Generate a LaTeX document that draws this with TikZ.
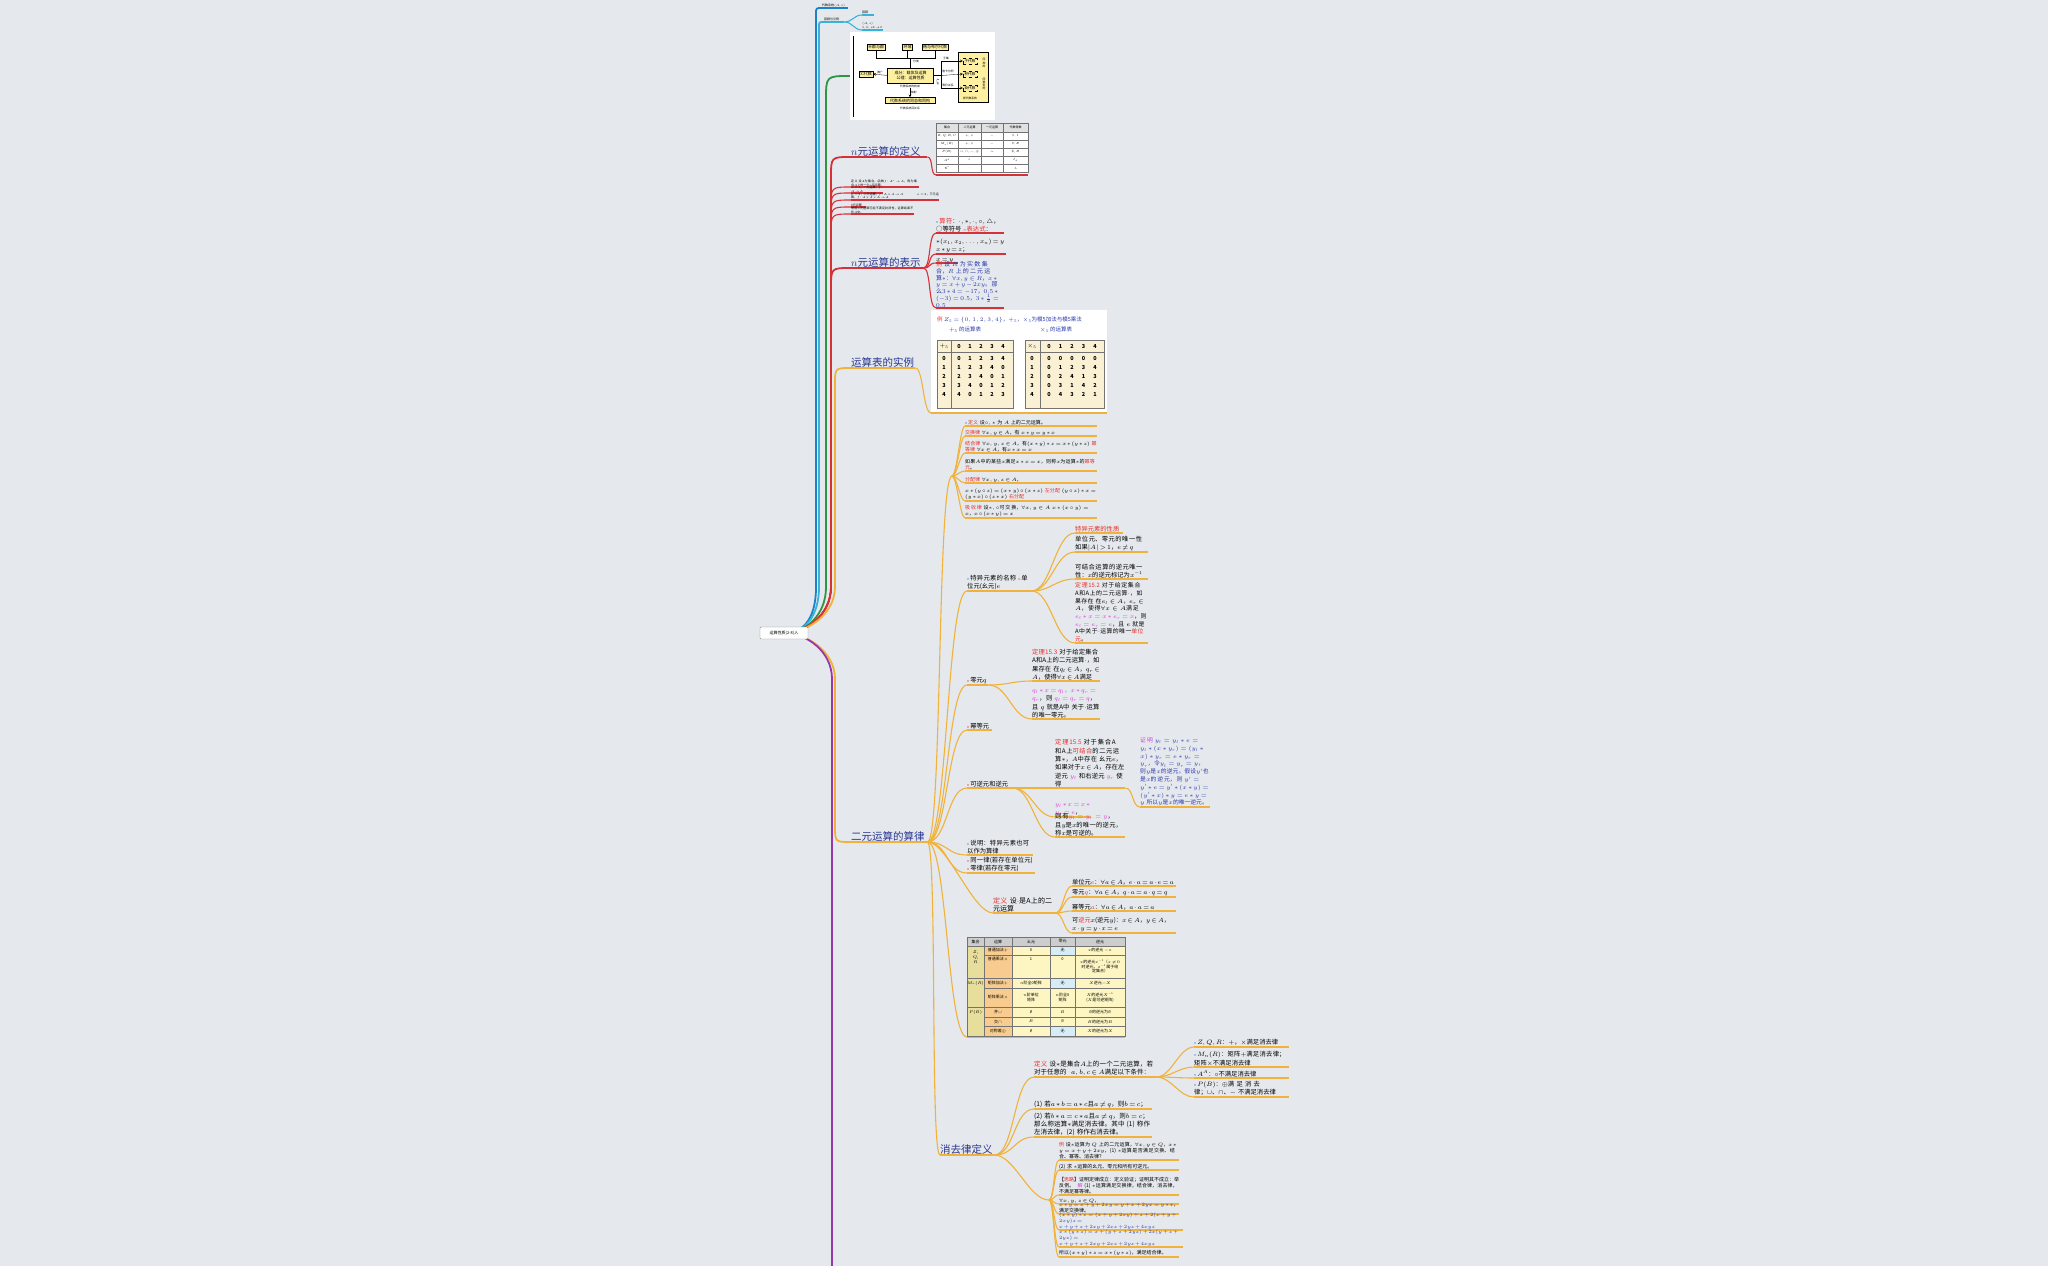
\RequirePackage{fix-cm}
\documentclass[tikz,border=0pt]{standalone}
\usepackage{fontspec}
\setmainfont{Noto Sans CJK SC}
\usepackage{xcolor}
\usetikzlibrary{positioning,arrows,backgrounds,calc}
\XeTeXlinebreaklocale "zh"
\XeTeXlinebreakskip=0pt plus 1pt
\thickmuskip=3mu plus 2mu
\medmuskip=2mu plus 1mu

\definecolor{bgc}{RGB}{229,233,237}
\definecolor{cblue}{RGB}{30,128,200}
\definecolor{ccyan}{RGB}{56,178,214}
\definecolor{cgreen}{RGB}{46,150,66}
\definecolor{cred}{RGB}{214,48,56}
\definecolor{cyel}{RGB}{240,178,58}
\definecolor{cpurp}{RGB}{150,56,170}
\definecolor{headc}{RGB}{40,52,145}
\definecolor{redtxt}{RGB}{232,45,40}
\definecolor{pinktxt}{RGB}{220,60,220}
\definecolor{bluetxt}{RGB}{40,55,170}
\definecolor{boxyel}{RGB}{253,240,160}
\definecolor{tabfill}{RGB}{250,241,212}
\definecolor{hdrfill}{RGB}{205,205,205}
\definecolor{setfill}{RGB}{232,222,156}
\definecolor{opfill}{RGB}{248,204,142}
\definecolor{cellfill}{RGB}{253,246,194}
\definecolor{nonefill}{RGB}{214,236,246}

\newcommand{\rtx}[1]{\textcolor{redtxt}{#1}}
\newcommand{\ptx}[1]{\textcolor{pinktxt}{#1}}
\newcommand{\btx}[1]{\textcolor{bluetxt}{#1}}
\newcommand{\bul}[1][cblue]{{\color{#1}\fontsize{3.5}{3.5}\selectfont n}\,}

\begin{document}
\begin{tikzpicture}[
    x=1pt, y=-1pt,
    topic/.style={anchor=south west, inner xsep=0pt, inner ysep=0.8pt, align=left, text width=#1},
    ul/.style={append after command={(\tikzlastnode.south west) edge[draw=#1, line width=1.1pt] (\tikzlastnode.south east)}},
    hul/.style={append after command={(\tikzlastnode.south west) edge[draw=#1, line width=1.8pt] (\tikzlastnode.south east)}},
    conn/.style={to path={.. controls +(#1,0) and +(-#1,0) .. (\tikztotarget)}},
    rootlink/.style={to path={let \p1=(\tikztostart), \p2=(\tikztotarget), \n1={ifthenelse(\y2>\y1,1,-1)} in
        .. controls (\x1+22,\y1) and (\x2-#1,\y1+\n1*18) .. (\x2-#1,\y1+\n1*46) -- (\x2-#1,\y2-\n1*#1) .. controls (\x2-#1,\y2) .. (\tikztotarget)}},
    mainline/.style={line width=1.8pt},
    subline/.style={line width=1.1pt},
    fhead/.style={font=\fontsize{10.5}{12}\selectfont, text=headc},
    fbody/.style={font=\fontsize{6.3}{8.3}\selectfont},
    fsmall/.style={font=\fontsize{5}{6}\selectfont},
    ftiny/.style={font=\fontsize{3}{3.6}\selectfont},
    rootbox/.style={rectangle, rounded corners=1pt, draw=black!45, fill=white!96!bgc, minimum width=48pt, minimum height=12pt, font=\fontsize{4}{5}\selectfont},
    imgbox/.style={rectangle, fill=white, inner sep=0pt},
    abox/.style={rectangle, draw=black, fill=boxyel, line width=0.4pt, inner sep=1pt, align=center, font=\fontsize{4}{4.8}\selectfont},
    dbox/.style={rectangle, draw=black, dashed, line width=0.3pt, fill=boxyel, inner sep=1pt, minimum width=14pt, font=\fontsize{3.6}{4}\selectfont},
    itxt/.style={inner sep=0pt, font=\fontsize{2.8}{3.2}\selectfont},
    tabtxt/.style={inner sep=0pt, align=center, font=\fontsize{4}{4.8}\selectfont},
    ttxt/.style={inner sep=0pt, align=center, font=\fontsize{3}{3.6}\selectfont},
    tnum/.style={inner sep=0pt, font=\fontsize{5.5}{6}\selectfont},
    tabline/.style={draw=black!55, line width=0.4pt}
]
\useasboundingbox (0,0) rectangle (2048,1266);
\begin{scope}[on background layer]
  \fill[bgc] (0,0) rectangle (2048,1266);
\end{scope}

% Root
\node[rootbox] (root) at (784,633) {运算性质(2-8)入};
\coordinate (pend) at (850,1300);

% Top branches
\node[topic=26pt, ftiny, ul=cblue] (alg) at (822,8) {代数系统$\langle A,\circ\rangle$};
\node[topic=20pt, ftiny, ul=ccyan] (review) at (824,22) {回顾与引例};
\node[topic=12pt, ftiny, ul=ccyan] (revA) at (862,15) {回顾};
\node[topic=21pt, ftiny, ul=ccyan] (revB) at (862,30) {$\langle A,*\rangle$\\$1,0,*3\to0$};

% Structure picture
\node[imgbox, minimum width=145pt, minimum height=88pt, anchor=west] (algimg) at (850,76) {};
\draw[line width=0.9pt] (853,36) -- (853,117);
\node[abox] (semi) at (876,47) {半群与群};
\node[abox] (ring) at (907.5,47) {环域};
\node[abox] (latt) at (935,47) {格与布尔代数};
\node[abox, minimum width=46pt, minimum height=15pt] (core) at (910.5,75.5) {成分：载体及运算\\公理：运算性质};
\node[abox] (sigma) at (866,74) {$\Sigma$代数};
\node[abox, minimum width=50pt] (homo) at (910,100.5) {代数系统的同态和同构};
\node[abox, minimum width=30pt, minimum height=50pt] (newalg) at (973.5,77.5) {};
\node[dbox] (subalg) at (970,61) {子代数};
\node[dbox] (prodalg) at (970,74) {积代数};
\node[dbox] (quotalg) at (970,88) {商代数};
\node[itxt] (newlbl) at (970,98.5) {新代数系统};
\node[itxt, align=center] (samek) at (984,63) {同\\种\\的};
\node[itxt, align=center] (samet) at (984,84) {同\\类\\型\\的};
\node[itxt] (corelbl) at (910,86.5) {代数系统的构成};
\node[itxt] (rellbl) at (910,108) {代数系统间关系};
\node[itxt] (classlbl) at (916,61) {分类};
\node[itxt] (sublbl) at (946,58) {子集};
\node[itxt] (prodlbl) at (948,71.5) {笛卡尔积};
\node[itxt] (quotlbl) at (948,85) {等价关系};
\node[itxt, align=center] (genr) at (938,82) {产\\生};
\draw[line width=0.3pt] (semi.south) -- (876,58) -- (935,58) -- (latt.south) (ring.south) -- (907.5,58) (910.5,58) -- (core.north);
\draw[->, >=stealth, line width=0.3pt] (core.west) -- node[itxt, above=0.5pt] (genlbl) {推广} (sigma.east);
\draw[->, >=stealth, line width=0.3pt] (corelbl.south) -- node[itxt, right=1pt] (maplbl) {映射} (homo.north);
\draw[->, >=stealth, line width=0.3pt] (core.east) -- (941,75.5) |- (subalg.west);
\draw[->, >=stealth, line width=0.3pt] (941,75.5) -- (prodalg.west);
\draw[->, >=stealth, line width=0.3pt] (941,75.5) |- (quotalg.west);

% n-ary operation: definition
\node[topic=76pt, fhead, hul=cred] (defhead) at (851,157) {$n$元运算的定义};
\node[imgbox, anchor=south west, minimum width=92pt, minimum height=52pt, ul=cred] (deftab) at (936,175) {};
\fill[hdrfill!60] (936,123) rectangle (1028,132);
\draw[tabline] (936,123) rectangle (1028,172);
\foreach \yy in {132,140,148,156,164} \draw[tabline] (936,\yy) -- (1028,\yy);
\foreach \xx in {958,981,1003} \draw[tabline] (\xx,123) -- (\xx,172);
\foreach \x/\y/\t [count=\k] in {
  947/127.5/集合, 969.5/127.5/二元运算, 992/127.5/一元运算, 1015.5/127.5/代数常数,
  947/136/{$Z,Q,R,C$}, 969.5/136/{$+,\times$}, 992/136/$-$, 1015.5/136/{$0,1$},
  947/144/$M_n(R)$, 969.5/144/{$+,\times$}, 992/144/$-$, 1015.5/144/{$\theta,E$},
  947/152/$P(B)$, 969.5/152/{$\cup,\cap,-,\oplus$}, 992/152/$\sim$, 1015.5/152/{$\emptyset,B$},
  947/160/$A^A$, 969.5/160/$\circ$, 1015.5/160/$I_A$,
  947/168/$\Sigma^*$, 969.5/168/$\cdot$, 1015.5/168/$\lambda$}
  \node[ttxt] (dt\k) at (\x,\y) {\t};

% n-ary operation: small notes
\node[topic=68pt, ftiny, inner ysep=0.5pt, ul=cred] (note1) at (851,187) {定义 设$A$为集合，函数$f:A^n\to A$，称为集合$A$上的一个$n$元运算。};
\node[topic=32pt, ftiny, inner ysep=0.5pt, ul=cred] (note2) at (851,193) {$n=1$，一元运算，$f:A\to A$};
\node[topic=88pt, ftiny, inner ysep=0.5pt, ul=cred] (note3) at (851,200) {$n=2$，二元运算，$f:A\times A\to A$\hspace{14pt}$n=3$，三元运算，$f:A\times A\times A\to A$};
\node[topic=15pt, ftiny, inner ysep=0.5pt, ul=cred] (note4) at (851,207) {0元运算};
\node[topic=63pt, ftiny, inner ysep=0.5pt, ul=cred] (note5) at (851,214) {常用$n$元运算可能不满足封闭性，运算结果不在$A$中。};

% n-ary operation: notation
\node[topic=72pt, fhead, hul=cred] (rephead) at (851,268) {$n$元运算的表示};
\node[topic=68pt, fbody, ul=cred] (rep1) at (936,233) {\bul\rtx{算符}：$\cdot,*,\cdot,\circ,\triangle$，○等符号 \bul\rtx{表达式}：};
\node[topic=70pt, font=\fontsize{6.1}{8}\selectfont, ul=cred] (rep2) at (936,254) {$*(x_1,x_2,\ldots,x_n)=y$\ \ $x*y=z$；};
\node[topic=22pt, fbody, inner ysep=0.4pt, ul=cred] (rep3) at (936,263) {$x=y$};
\node[topic=68pt, font=\fontsize{6}{6.7}\selectfont, text=bluetxt, ul=cred] (rep4) at (936,308) {\rtx{例} 设 $R$ 为实数集合，$R$ 上的二元运算$*$：$\forall x,y\in R$，$x*y=x+y-2xy$。那么$3*4=-17$，$0.5*(-3)=0.5$，$3*\frac{1}{2}=0.5$};

% Operation tables
\node[topic=64pt, fhead, hul=cyel] (tabhead) at (851,368) {运算表的实例};
\node[imgbox, anchor=south west, minimum width=176pt, minimum height=103pt, ul=cyel] (tabimg) at (931,413) {};
\node[anchor=west, inner sep=0pt, font=\fontsize{5.5}{6}\selectfont, text=bluetxt] (extitle) at (937,320) {\rtx{例}\ $Z_5=\{0,1,2,3,4\}$，$+_5$，$\times_5$为模5加法与模5乘法};
\node[inner sep=0pt, font=\fontsize{5.5}{6}\selectfont, text=bluetxt] (addcap) at (965,330) {$+_5$ 的运算表};
\node[inner sep=0pt, font=\fontsize{5.5}{6}\selectfont, text=bluetxt] (mulcap) at (1056,330) {$\times_5$ 的运算表};
\draw[tabline, fill=tabfill] (937,340) rectangle (1013,408);
\draw[tabline] (937,352) -- (1013,352) (951,340) -- (951,408);
\draw[tabline, fill=tabfill] (1025,340) rectangle (1104,408);
\draw[tabline] (1025,352) -- (1104,352) (1040,340) -- (1040,408);
\node[tnum] (addhd) at (944,346) {$+_5$};
\node[tnum] (mulhd) at (1032,346) {$\times_5$};
\foreach \c in {0,...,4} {
  \node[tnum] (addc\c) at (959+11*\c,346) {$\mathbf{\c}$};
  \node[tnum] (mulc\c) at (1049+11.5*\c,346) {$\mathbf{\c}$};
}
\foreach \r in {0,...,4} {
  \node[tnum] (addr\r) at (944,358+9*\r) {$\mathbf{\r}$};
  \node[tnum] (mulr\r) at (1032,358+9*\r) {$\mathbf{\r}$};
  \foreach \c in {0,...,4} {
    \pgfmathtruncatemacro{\va}{mod(\r+\c,5)}
    \pgfmathtruncatemacro{\vm}{mod(\r*\c,5)}
    \node[tnum] (add\r\c) at (959+11*\c,358+9*\r) {$\mathbf{\va}$};
    \node[tnum] (mul\r\c) at (1049+11.5*\c,358+9*\r) {$\mathbf{\vm}$};
  }
}

% Laws of binary operations
\node[topic=76pt, fhead, hul=cyel] (lawhead) at (851,842) {二元运算的算律};
\coordinate (lawhub) at (952,476);
\node[topic=132pt, fsmall, ul=cyel] (law1) at (965,426) {\bul\rtx{定义} 设$\circ,*$ 为 $A$ 上的二元运算。};
\node[topic=132pt, fsmall, ul=cyel] (law2) at (965,436) {\rtx{交换律} $\forall x,y\in A$，有 $x*y=y*x$};
\node[topic=132pt, fsmall, ul=cyel] (law3) at (965,453) {\rtx{结合律} $\forall x,y,z\in A$，有$(x*y)*z=x*(y*z)$ \rtx{幂等律} $\forall x\in A$，有$x*x=x$};
\node[topic=132pt, fsmall, ul=cyel] (law4) at (965,471) {如果$A$中的某些$x$满足$x*x=x$，则称$x$为运算$*$的\rtx{幂等元}。};
\node[topic=132pt, fsmall, ul=cyel] (law5) at (965,483) {\rtx{分配律} $\forall x,y,z\in A$，};
\node[topic=132pt, fsmall, ul=cyel] (law6) at (965,501) {$x*(y\circ z)=(x*y)\circ(x*z)$ \rtx{左分配} $(y\circ z)*x=(y*x)\circ(z*x)$ \rtx{右分配}};
\node[topic=132pt, fsmall, ul=cyel] (law7) at (965,518) {\rtx{吸收律} 设$*,\circ$可交换，$\forall x,y\in A$ $x*(x\circ y)=x$，$x\circ(x*y)=x$};

\node[topic=64pt, fbody, ul=cyel] (spec) at (967,591) {\bul 特异元素的名称 \bul[redtxt]单位元(幺元)$e$};
\node[topic=48pt, fbody, ul=cyel] (specp) at (1075,533) {\rtx{特异元素的性质}};
\node[topic=73pt, fbody, ul=cyel] (specu) at (1075,552) {单位元、零元的唯一性\ \ 如果$|A|>1$，$e\neq q$};
\node[topic=73pt, fbody, ul=cyel] (speci) at (1075,579) {可结合运算的逆元唯一性：$x$的逆元标记为$x^{-1}$};
\node[topic=73pt, font=\fontsize{5.9}{7.7}\selectfont, ul=cyel] (thmunit) at (1075,643) {\rtx{定理15.2} 对于给定集合A和A上的二元运算$\cdot$，如果存在\ 在$e_l\in A$，$e_r\in A$，使得$\forall x\in A$满足 \ptx{$e_l*x=x*e_r=x$}，则 \ptx{$e_l=e_r=e$}，且 $e$ 就是A中关于$\cdot$运算的唯一\rtx{单位元}。};

\node[topic=21pt, fbody, ul=cyel] (zero) at (967,685) {\bul[redtxt]零元$q$};
\node[topic=68pt, fbody, ul=cyel] (thmzero) at (1032,681) {\rtx{定理15.3} 对于给定集合A和A上的二元运算$\cdot$，如果存在\ 在$q_l\in A$，$q_r\in A$，使得$\forall x\in A$满足};
\node[topic=68pt, fbody, ul=cyel] (zerores) at (1032,719) {\ptx{$q_l*x=q_l$，$x*q_r=q_r$}，则 \ptx{$q_l=q_r=q$}，且 $q$ 就是A中 关于$\cdot$运算的唯一零元。};

\node[topic=25pt, fbody, ul=cyel] (idem) at (967,730) {\bul[redtxt]幂等元};

\node[topic=45pt, fbody, ul=cyel] (inv) at (967,788) {\bul[redtxt]可逆元和逆元};
\node[topic=70pt, fbody, ul=cyel] (thminv) at (1055,788) {\rtx{定理15.5} 对于集合A和A上\rtx{可结合}的二元运算$*$，$A$中存在\ 幺元$e$，如果对于$x\in A$，存在左逆元 \ptx{$y_l$} 和右逆元 \ptx{$y_r$} 使得};
\node[topic=70pt, font=\fontsize{5.8}{7.8}\selectfont, text=bluetxt, ul=cyel] (invproof) at (1140,807) {\ptx{证明} $y_l=y_l*e=y_l*(x*y_r)=(y_l*x)*y_r=e*y_r=y_r$，令$y_l=y_r=y$，则$y$是$x$的逆元。假设$y'$也是$x$的逆元，则 $y'=y'*e=y'*(x*y)=(y'*x)*y=e*y=y$ 所以$y$是$x$的唯一逆元。};
\node[topic=36pt, fbody, ul=cyel] (invcond) at (1055,817) {\ptx{$y_l*x=x*y_r=e$}，};
\node[topic=70pt, fbody, ul=cyel] (invres) at (1055,837) {则有\ptx{$y_l=y_r=y$}，且$y$是$x$的唯一的逆元，称$x$是可逆的。};

\node[topic=66pt, fbody, ul=cyel] (remark) at (967,855) {\bul 说明：特异元素也可以作为算律};
\node[topic=68pt, fbody, ul=cyel] (idlaw) at (967,873) {\bul[redtxt]同一律(若存在单位元) \bul[redtxt]零律(若存在零元)};

\node[topic=62pt, font=\fontsize{7}{8.3}\selectfont, ul=cyel] (specdef) at (993,913) {\rtx{定义} 设$\cdot$是A上的二元运算};
\node[topic=104pt, font=\fontsize{6.2}{8.3}\selectfont, ul=cyel] (defunit) at (1072,886) {单位元\rtx{$e$}：$\forall a\in A$，$e\cdot a=a\cdot e=a$};
\node[topic=104pt, font=\fontsize{6.2}{8.3}\selectfont, ul=cyel] (defzero) at (1072,897) {零元\rtx{$q$}：$\forall a\in A$，$q\cdot a=a\cdot q=q$};
\node[topic=104pt, font=\fontsize{6.2}{8.3}\selectfont, ul=cyel] (defidem) at (1072,911) {幂等元\rtx{$a$}：$\forall a\in A$，$a\cdot a=a$};
\node[topic=104pt, font=\fontsize{6.2}{8.3}\selectfont, ul=cyel] (definv) at (1072,933) {可\rtx{逆元}$x$(逆元$y$)：$x\in A$，$y\in A$，\\$x\cdot y=y\cdot x=e$};

% Table of special elements
\node[imgbox, anchor=south west, minimum width=158pt, minimum height=100pt, fill=none, ul=cyel] (spectab) at (967,1037) {};
\fill[hdrfill] (967,937) rectangle (1125,946);
\fill[setfill] (967,946) rectangle (984,1036);
\fill[opfill] (984,946) rectangle (1012,1036);
\fill[cellfill] (1012,946) rectangle (1125,1036);
\fill[nonefill] (1050,946) rectangle (1075,955) (1050,978) rectangle (1075,988) (1050,1026) rectangle (1075,1036);
\draw[tabline] (967,937) rectangle (1125,1036);
\foreach \yy in {946,978,1007} \draw[tabline] (967,\yy) -- (1125,\yy);
\foreach \yy in {955,988,1017,1026} \draw[tabline] (984,\yy) -- (1125,\yy);
\foreach \xx in {984,1012,1050,1075} \draw[tabline] (\xx,937) -- (\xx,1036);
\foreach \x/\y/\t [count=\k] in {
  975.5/941.5/集合, 998/941.5/运算, 1031/941.5/幺元, 1062.5/941.5/零元, 1100/941.5/逆元,
  975.5/957/{$Z$,\\$Q$,\\$R$}, 998/950.5/普通加法$+$, 1031/950.5/0, 1062.5/950.5/无, 1100/950.5/{$x$的逆元 $-x$},
  998/959/普通乘法$\times$, 1031/959/1, 1062.5/959/0, 1100/966.5/{$x$的逆元$x^{-1}$（$x\neq0$\\时逆元，$x^{-1}$属于给\\定集合）},
  975.5/983/$M_n(R)$, 998/983/矩阵加法$+$, 1031/983/{$n$阶全0矩阵}, 1062.5/983/无, 1100/983/{$X$逆元$-X$},
  998/997.5/矩阵乘法$\times$, 1031/997.5/{$n$阶单位\\矩阵}, 1062.5/997.5/{$n$阶全0\\矩阵}, 1100/997.5/{$X$的逆元$X^{-1}$\\($X$是可逆矩阵)},
  975.5/1012/$P(B)$, 998/1012/并$\cup$, 1031/1012/$\emptyset$, 1062.5/1012/$B$, 1100/1012/{$\emptyset$的逆元为$\emptyset$},
  998/1021.5/交$\cap$, 1031/1021.5/$B$, 1062.5/1021.5/$\emptyset$, 1100/1021.5/{$B$的逆元为$B$},
  998/1031/对称差$\oplus$, 1031/1031/$\emptyset$, 1062.5/1031/无, 1100/1031/{$X$的逆元为$X$}}
  \node[tabtxt] (st\k) at (\x,\y) {\t};

% Cancellation law
\node[topic=54pt, fhead, hul=cyel] (elimhead) at (940,1155) {消去律定义};
\node[topic=122pt, font=\fontsize{6.5}{8}\selectfont, ul=cyel] (elimdef) at (1034,1077) {\rtx{定义} 设$*$是集合$A$上的一个二元运算，若对于任意的\ \ $a,b,c\in A$满足以下条件：};
\node[topic=95pt, fbody, ul=cyel] (elimZ) at (1194,1047) {\bul $Z,Q,R$：$+$，$\times$满足消去律};
\node[topic=95pt, fbody, ul=cyel] (elimM) at (1194,1067) {\bul $M_n(R)$：矩阵$+$满足消去律；矩阵$\times$不满足消去律};
\node[topic=95pt, fbody, ul=cyel] (elimA) at (1194,1078) {\bul $A^A$：$\circ$不满足消去律};
\node[topic=95pt, fbody, ul=cyel] (elimP) at (1194,1097) {\bul $P(B)$：$\oplus$满足消去律；$\cup$、$\cap$、$-$ 不满足消去律};
\node[topic=118pt, font=\fontsize{6.5}{8.3}\selectfont, ul=cyel] (elimL) at (1034,1109) {(1) 若$a*b=a*c$且$a\neq q$，则$b=c$；};
\node[topic=118pt, font=\fontsize{6.5}{8.3}\selectfont, ul=cyel] (elimR) at (1034,1137) {(2) 若$b*a=c*a$且$a\neq q$，则$b=c$；那么称运算$*$满足消去律。其中 (1) 称作左消去律，(2) 称作右消去律。};
\coordinate (exhub) at (1049,1200);
\node[topic=120pt, fsmall, ul=cyel] (ex1) at (1059,1160) {\rtx{例} 设$*$运算为 $Q$ 上的二元运算，$\forall x,y\in Q$，$x*y=x+y+2xy$，(1) $*$运算是否满足交换、结合、幂等、消去律？};
\node[topic=120pt, fsmall, ul=cyel] (ex2) at (1059,1170) {(2) 求 $*$运算的幺元、零元和所有可逆元。};
\node[topic=120pt, fsmall, ul=cyel] (ex3) at (1059,1195) {【\rtx{思路}】证明定律成立：定义验证；证明其不成立：举反例。\ \ \ptx{解} (1) $*$运算满足交换律，结合律，消去律，不满足幂等律。};
\node[topic=120pt, fsmall, ul=cyel] (ex4) at (1059,1204) {$\forall x,y,z\in Q$，};
\node[topic=120pt, fsmall, ul=cyel] (ex5) at (1059,1214) {\btx{$x*y=x+y+2xy=y+x+2yx=y*x$}，满足交换律。};
\node[topic=124pt, font=\fontsize{4.8}{6}\selectfont, ul=cyel] (ex6) at (1059,1230) {\btx{$(x*y)*z=(x+y+2xy)+z+2(x+y+2xy)z=$}\\\btx{$x+y+z+2xy+2xz+2yz+4xyz$}};
\node[topic=124pt, font=\fontsize{4.8}{6}\selectfont, ul=cyel] (ex7) at (1059,1247) {\btx{$x*(y*z)=x+(y+z+2yz)+2x(y+z+2yz)=$}\\\btx{$x+y+z+2xy+2xz+2yz+4xyz$}};
\node[topic=120pt, fsmall, ul=cyel] (ex8) at (1059,1257) {所以$(x*y)*z=x*(y*z)$，满足结合律。};

% Connectors
\begin{scope}[on background layer]
  \draw[mainline, draw=cblue] (root.center) to[rootlink=6] (alg.south west);
  \draw[mainline, draw=ccyan] (root.center) to[rootlink=5] (review.south west);
  \draw[subline, draw=ccyan] (review.south east) to[conn=8] (revA.south west);
  \draw[subline, draw=ccyan] (review.south east) to[conn=8] (revB.south west);
  \draw[mainline, draw=cgreen] (root.center) to[rootlink=24] (algimg.west);
  \draw[mainline, draw=cred] (root.center) to[rootlink=20] (defhead.south west);
  \draw[subline, draw=cred] (defhead.south east) to[conn=6] (deftab.south west);
  \foreach \nm in {note1,note2,note3,note4,note5}
    \draw[subline, draw=cred] (root.center) to[rootlink=20] (\nm.south west);
  \draw[mainline, draw=cred] (root.center) to[rootlink=20] (rephead.south west);
  \foreach \nm in {rep1,rep2,rep3,rep4}
    \draw[subline, draw=cred] (rephead.south east) to[conn=8] (\nm.south west);
  \draw[mainline, draw=cyel] (root.center) to[rootlink=16] (tabhead.south west);
  \draw[subline, draw=cyel] (tabhead.south east) to[conn=8] (tabimg.south west);
  \draw[mainline, draw=cyel] (root.center) to[rootlink=16] (lawhead.south west);
  \draw[mainline, draw=cpurp] (root.center) to[rootlink=18] (pend);
  \draw[subline, draw=cyel] (lawhead.south east) to[conn=15] (lawhub);
  \foreach \nm in {law1,law2,law3,law4,law5,law6,law7}
    \draw[subline, draw=cyel] (lawhub) to[conn=5] (\nm.south west);
  \foreach \nm in {spec,zero,idem,inv,remark,idlaw,specdef,spectab}
    \draw[subline, draw=cyel] (lawhead.south east) to[conn=20] (\nm.south west);
  \draw[subline, draw=cyel] (lawhead.south east) to[conn=10] (elimhead.south west);
  \foreach \nm in {specp,specu,speci,thmunit}
    \draw[subline, draw=cyel] (spec.south east) to[conn=20] (\nm.south west);
  \foreach \nm in {thmzero,zerores}
    \draw[subline, draw=cyel] (zero.south east) to[conn=20] (\nm.south west);
  \foreach \nm in {thminv,invcond,invres}
    \draw[subline, draw=cyel] (inv.south east) to[conn=20] (\nm.south west);
  \draw[subline, draw=cyel] (thminv.south east) to[conn=8] (invproof.south west);
  \foreach \nm in {defunit,defzero,defidem,definv}
    \draw[subline, draw=cyel] (specdef.south east) to[conn=8] (\nm.south west);
  \foreach \nm in {elimdef,elimL,elimR}
    \draw[subline, draw=cyel] (elimhead.south east) to[conn=20] (\nm.south west);
  \draw[subline, draw=cyel] (elimhead.south east) to[conn=20] (exhub);
  \foreach \nm in {elimZ,elimM,elimA,elimP}
    \draw[subline, draw=cyel] (elimdef.south east) to[conn=15] (\nm.south west);
  \foreach \nm in {ex1,ex2,ex3,ex4,ex5,ex6,ex7,ex8}
    \draw[subline, draw=cyel] (exhub) to[conn=5] (\nm.south west);
\end{scope}
\end{tikzpicture}
\end{document}
